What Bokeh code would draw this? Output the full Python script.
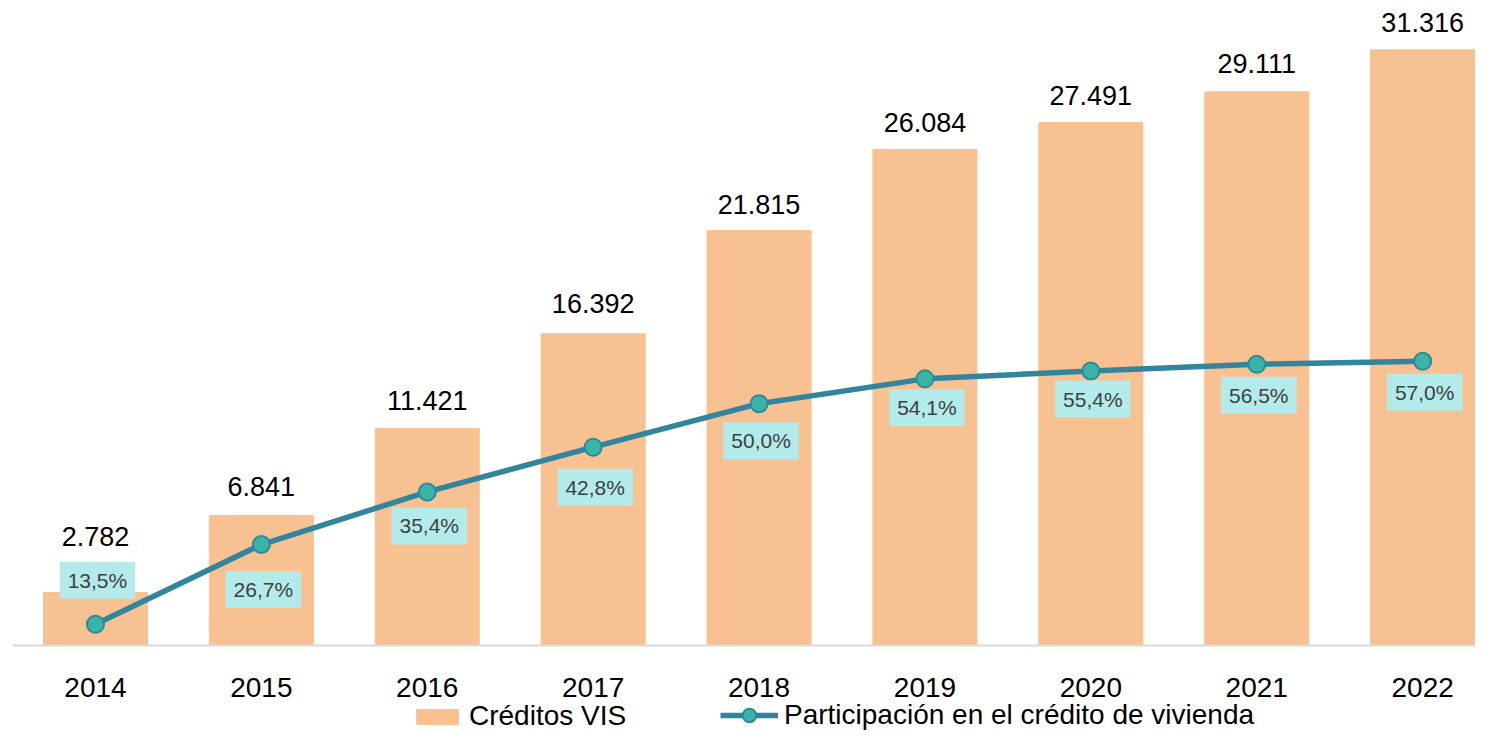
from bokeh.plotting import figure
from bokeh.models import Range1d, Span, Legend, LegendItem, ColumnDataSource
from bokeh.core.properties import value
from bokeh.embed import file_html
from bokeh.resources import INLINE

# ---- data ----
years = ["2014", "2015", "2016", "2017", "2018", "2019", "2020", "2021", "2022"]
creditos_vis = [2782, 6841, 11421, 16392, 21815, 26084, 27491, 29111, 31316]
participacion = [13.5, 26.7, 35.4, 42.8, 50.0, 54.1, 55.4, 56.5, 57.0]

# ---- styles (label placement, screen px) ----
bar_label_offsets = [-56, -29, -28, -30, -26, -27, -27, -28, -27]
pct_label_offsets = [-44, 45, 34, 40, 37, 29, 28, 31, 31]

FONT = "Liberation Sans"
BAR_COLOR = "#F8C191"
LINE_COLOR = "#31859C"
MARKER_FILL = "#3AB4A7"
MARKER_LINE = "#2D8A9A"
BOX_COLOR = "#B2EBE9"

xs = list(range(len(years)))
src = ColumnDataSource(dict(
    x=xs,
    zero=[0] * len(xs),
    year=years,
    vis=creditos_vis,
    pct=participacion,
    vis_txt=[f"{v:,}".replace(",", ".") for v in creditos_vis],
    pct_txt=[f"{v:.1f}%".replace(".", ",") for v in participacion],
    voff=bar_label_offsets,
    poff=pct_label_offsets,
))

W, H = 1475, 732
SPACING = 165.9          # px per category
FRAME_LEFT = 12
BASE = 645               # baseline (px from top)
BELOW = H - BASE
PX_PER_UNIT = 0.01902    # bar scale
PX_PER_PCT = 6.046       # line scale
PCT_BASE = 10.0

p = figure(width=W, height=H, output_backend="svg", toolbar_location=None,
           x_range=Range1d(-0.5, -0.5 + (W - FRAME_LEFT) / SPACING),
           y_range=Range1d(-BELOW / PX_PER_UNIT, BASE / PX_PER_UNIT),
           y_axis_location=None, x_axis_location=None,
           min_border_left=FRAME_LEFT, min_border_right=0, min_border_top=0,
           min_border_bottom=0)
p.extra_y_ranges = {"pct": Range1d(PCT_BASE - BELOW / PX_PER_PCT,
                                   PCT_BASE + BASE / PX_PER_PCT)}
p.outline_line_color = None
p.xgrid.visible = False
p.ygrid.visible = False

# category axis: baseline + year labels
p.add_layout(Span(location=0, dimension="width", line_color="#D9D9D9",
                  line_width=2))
p.text(x="x", y="zero", text="year", y_offset=42, source=src,
       text_align="center", text_baseline="middle",
       text_font=value(FONT), text_font_size="28px", text_color="#000000")

bars = p.vbar(x="x", top="vis", bottom=0, width=104 / SPACING, source=src,
              fill_color=BAR_COLOR, line_color=BAR_COLOR)

p.text(x="x", y="vis", text="vis_txt", y_offset="voff", source=src,
       text_align="center", text_baseline="middle",
       text_font=value(FONT), text_font_size="27px", text_color="#000000")

line = p.line(x="x", y="pct", source=src, y_range_name="pct",
              line_color=LINE_COLOR, line_width=5.5)
marks = p.scatter(x="x", y="pct", source=src, y_range_name="pct", size=17,
                  fill_color=MARKER_FILL, line_color=MARKER_LINE, line_width=2)

p.text(x="x", y="pct", text="pct_txt", y_offset="poff", x_offset=2, source=src,
       y_range_name="pct", text_align="center", text_baseline="middle",
       text_font=value(FONT), text_font_size="21px", text_color="#404040",
       background_fill_color=BOX_COLOR, padding=(8, 7))

common = dict(orientation="horizontal", padding=0, margin=0,
              border_line_color=None, background_fill_alpha=0,
              label_text_font=FONT, label_text_font_size="28px",
              label_text_color="#000000", label_standoff=6)

legend_bar = Legend(items=[LegendItem(label="Créditos VIS", renderers=[bars])],
                    location=(411 - FRAME_LEFT, 0),
                    glyph_width=52, glyph_height=19, **common)
legend_line = Legend(items=[LegendItem(label="Participación en el crédito de vivienda",
                                       renderers=[line, marks])],
                     location=(720 - FRAME_LEFT, 0),
                     glyph_width=58, glyph_height=34, **common)
p.add_layout(legend_bar)
p.add_layout(legend_line)

open("out.html", "w").write(file_html(p, INLINE))
